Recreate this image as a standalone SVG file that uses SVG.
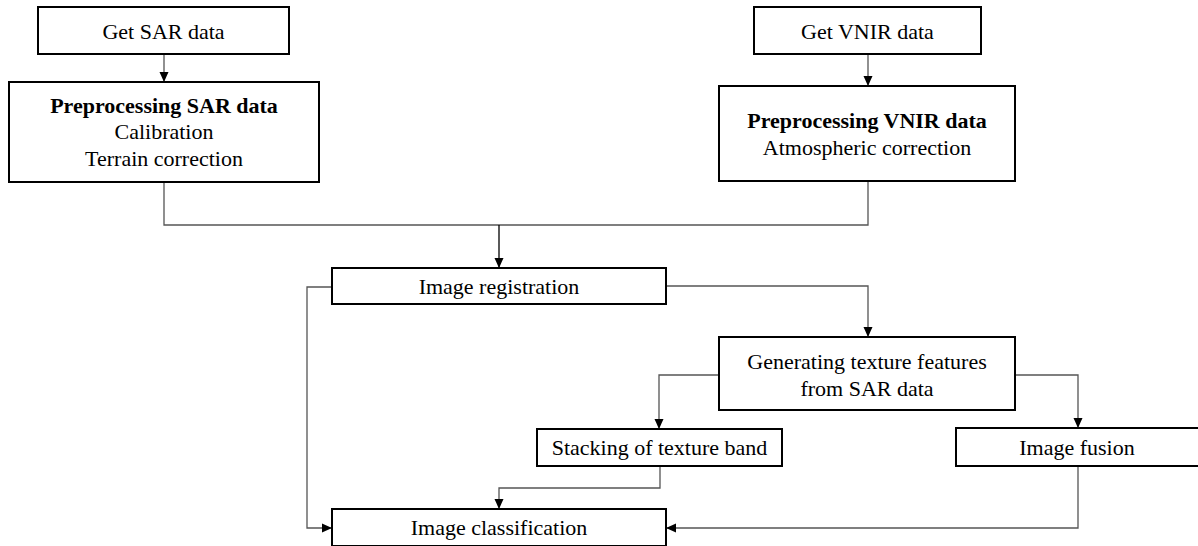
<svg xmlns="http://www.w3.org/2000/svg" width="1198" height="546" viewBox="0 0 1198 546">
<defs>
<marker id="arr" viewBox="0 0 10 10" refX="10" refY="5" markerWidth="10" markerHeight="10" markerUnits="userSpaceOnUse" orient="auto">
<path d="M0,0.5 L10,5 L0,9.5 Z" fill="#000"/>
</marker>
<style>
.box{fill:#fff;stroke:#000;stroke-width:2}
.t{font-family:"Liberation Serif","Times New Roman",serif;font-size:22px;fill:#000;text-anchor:middle}
.b{font-weight:bold}
.c{fill:none;stroke:#555;stroke-width:1.3}
.a{marker-end:url(#arr)}
</style>
</defs>
<rect width="1198" height="546" fill="#fff"/>
<g id="connectors">
<path class="c a" d="M164,54 V82"/>
<path class="c a" d="M868,54 V86"/>
<path class="c" d="M164,182 V225 H868 V181"/>
<path class="c a" d="M499,225 V268" style="stroke:#000"/>
<path class="c a" d="M666,286 H868 V337"/>
<path class="c a" d="M332,287 H307 V528 H332"/>
<path class="c a" d="M719,375 H659 V429"/>
<path class="c a" d="M1015,375 H1078 V428"/>
<path class="c a" d="M660,466 V488 H499 V509"/>
<path class="c a" d="M1078,466 V528 H666"/>
</g>
<g id="get-sar">
<rect class="box" x="38" y="7" width="251" height="47"/>
<text class="t" x="163.5" y="38.5">Get SAR data</text>
</g>
<g id="pre-sar">
<rect class="box" x="9" y="82" width="310" height="100"/>
<text class="t b" x="164" y="112.5">Preprocessing SAR data</text>
<text class="t" x="164" y="139">Calibration</text>
<text class="t" x="164" y="165.5">Terrain correction</text>
</g>
<g id="get-vnir">
<rect class="box" x="754" y="7" width="227" height="47"/>
<text class="t" x="867.5" y="38.5">Get VNIR data</text>
</g>
<g id="pre-vnir">
<rect class="box" x="719" y="86" width="296" height="95"/>
<text class="t b" x="867" y="128">Preprocessing VNIR data</text>
<text class="t" x="867" y="155">Atmospheric correction</text>
</g>
<g id="registration">
<rect class="box" x="332" y="268" width="334" height="36"/>
<text class="t" x="499" y="293.5">Image registration</text>
</g>
<g id="texture">
<rect class="box" x="719" y="337" width="296" height="73"/>
<text class="t" x="867" y="369">Generating texture features</text>
<text class="t" x="867" y="396">from SAR data</text>
</g>
<g id="stacking">
<rect class="box" x="537" y="429" width="245" height="37"/>
<text class="t" x="659.5" y="455">Stacking of texture band</text>
</g>
<g id="fusion">
<rect class="box" x="956" y="428" width="246" height="38"/>
<text class="t" x="1077" y="454.5">Image fusion</text>
</g>
<g id="classification">
<rect class="box" x="332" y="509" width="334" height="37"/>
<text class="t" x="499" y="535">Image classification</text>
</g>
</svg>
